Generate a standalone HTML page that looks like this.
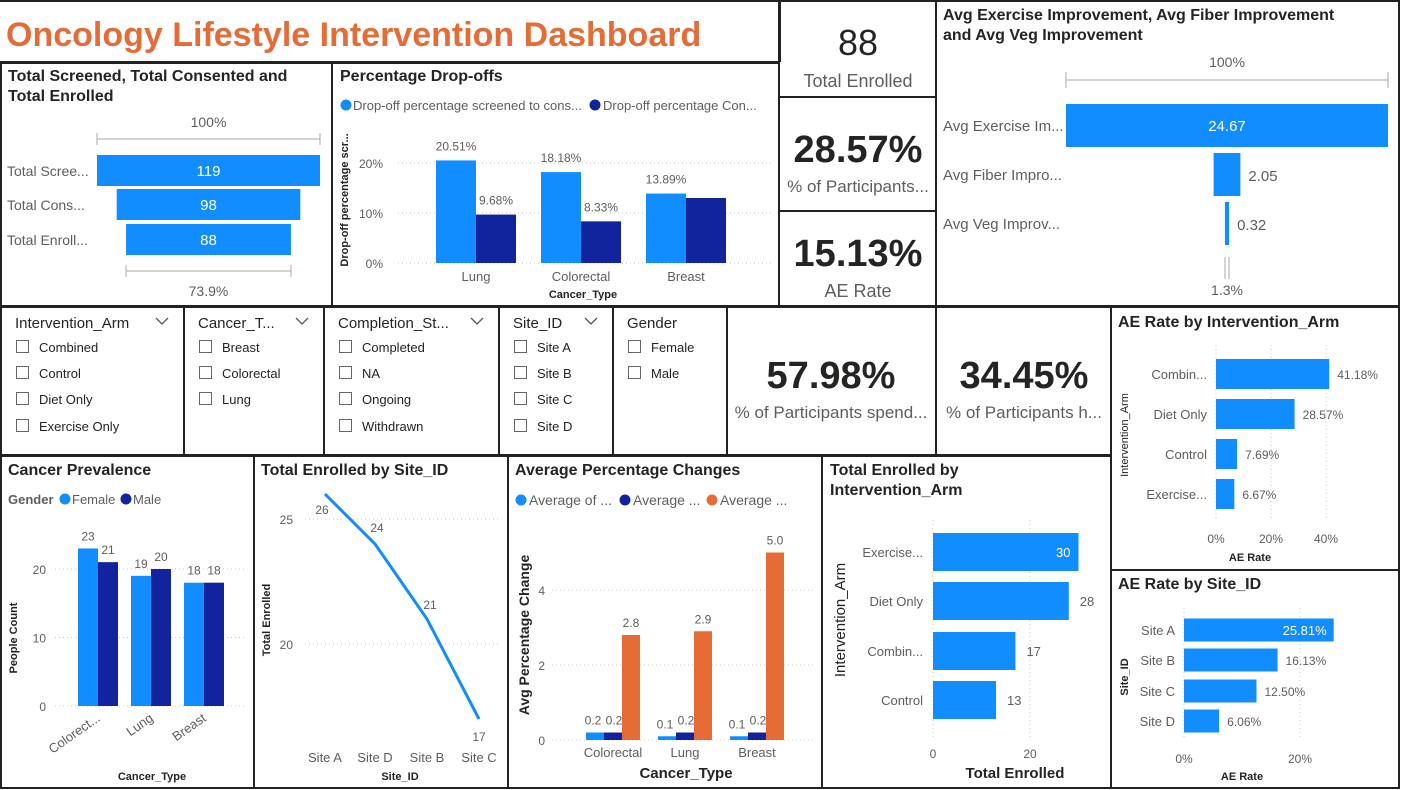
<!DOCTYPE html>
<html><head><meta charset="utf-8"><title>Oncology Lifestyle Intervention Dashboard</title>
<style>
html,body{margin:0;padding:0;background:#fff;}
svg{display:block;font-family:"Liberation Sans",sans-serif;}
</style></head>
<body>
<svg id="dash" width="1401" height="790" viewBox="0 0 1401 790" xmlns="http://www.w3.org/2000/svg">
<rect x="0" y="0" width="1401" height="790" fill="#fff"/>
<g id="borders" stroke="#222" stroke-width="2" fill="none">
  <line x1="0" y1="1" x2="1400" y2="1"/>
  <line x1="780" y1="0" x2="780" y2="62"/>
  <line x1="0" y1="62" x2="780" y2="62"/>
  <rect x="1" y="63" width="331" height="243"/>
  <rect x="332" y="63" width="447" height="243"/>
  <rect x="779" y="1" width="157" height="96"/>
  <rect x="779" y="97" width="157" height="114"/>
  <rect x="779" y="211" width="157" height="95"/>
  <rect x="936" y="1" width="463" height="305"/>
  <rect x="1" y="307" width="183" height="148"/>
  <rect x="184" y="307" width="140" height="148"/>
  <rect x="324" y="307" width="175" height="148"/>
  <rect x="499" y="307" width="114" height="148"/>
  <rect x="613" y="307" width="114" height="148"/>
  <rect x="727" y="307" width="209" height="148"/>
  <rect x="936" y="307" width="175" height="148"/>
  <rect x="1111" y="307" width="288" height="263"/>
  <rect x="1111" y="570" width="288" height="218"/>
  <rect x="1" y="456" width="253" height="332"/>
  <rect x="254" y="456" width="254" height="332"/>
  <rect x="508" y="456" width="314" height="332"/>
  <rect x="822" y="456" width="289" height="332"/>
</g>
<text x="6" y="46" font-size="34" font-weight="bold" fill="#E66C37">Oncology Lifestyle Intervention Dashboard</text>

<g text-anchor="middle">
  <text x="858" y="55" font-size="36" fill="#252423">88</text>
  <text x="858" y="87" font-size="18" fill="#605E5C">Total Enrolled</text>
</g>
<g text-anchor="middle">
  <text x="858" y="162" font-size="38" font-weight="bold" fill="#252423">28.57%</text>
  <text x="858" y="192" font-size="17" fill="#605E5C">% of Participants...</text>
</g>
<g text-anchor="middle">
  <text x="858" y="266" font-size="38" font-weight="bold" fill="#252423">15.13%</text>
  <text x="858" y="297" font-size="18" fill="#605E5C">AE Rate</text>
</g>
<g text-anchor="middle">
  <text x="831" y="388" font-size="38" font-weight="bold" fill="#252423">57.98%</text>
  <text x="831" y="418" font-size="17" fill="#605E5C">% of Participants spend...</text>
</g>
<g text-anchor="middle">
  <text x="1024" y="388" font-size="38" font-weight="bold" fill="#252423">34.45%</text>
  <text x="1024" y="418" font-size="17" fill="#605E5C">% of Participants h...</text>
</g>
<g id="charts"></g>
</svg>
<script>
var funnel1Labels = ["Total Scree...", "Total Cons...", "Total Enroll..."];
var funnel1Values = [119, 98, 88];
var funnel1Bottom = "73.9%";
var dropCats = ["Lung", "Colorectal", "Breast"];
var dropScreened = [20.51, 18.18, 13.89];
var dropConsented = [9.68, 8.33, 13.0];
var dropScreenedLbl = ["20.51%", "18.18%", "13.89%"];
var dropConsentedLbl = ["9.68%", "8.33%", ""];
var dropTicks = [0, 10, 20];
var improveLabels = ["Avg Exercise Im...", "Avg Fiber Impro...", "Avg Veg Improv..."];
var improveValues = [24.67, 2.05, 0.32];
var improveBottom = "1.3%";
var prevCats = ["Colorect...", "Lung", "Breast"];
var prevFemale = [23, 19, 18];
var prevMale = [21, 20, 18];
var prevTicks = [0, 10, 20];
var siteCats = ["Site A", "Site D", "Site B", "Site C"];
var siteEnrolled = [26, 24, 21, 17];
var siteTicks = [20, 25];
var avgCats = ["Colorectal", "Lung", "Breast"];
var avgS1 = [0.2, 0.1, 0.1];
var avgS2 = [0.2, 0.2, 0.2];
var avgS3 = [2.8, 2.9, 5.0];
var avgTicks = [0, 2, 4];
var armCats = ["Exercise...", "Diet Only", "Combin...", "Control"];
var armEnrolled = [30, 28, 17, 13];
var armTicks = [0, 20];
var aeArmCats = ["Combin...", "Diet Only", "Control", "Exercise..."];
var aeArmVals = [41.18, 28.57, 7.69, 6.67];
var aeArmTicks = [0, 20, 40];
var aeSiteCats = ["Site A", "Site B", "Site C", "Site D"];
var aeSiteVals = [25.81, 16.13, 12.50, 6.06];
var aeSiteTicks = [0, 20];

var LB = "#118DFF", DB = "#12239E", OR = "#E66C37", GR = "#605E5C";
var NS = "http://www.w3.org/2000/svg";
var root = document.getElementById("charts");
function mk(tag, attrs, parent, txt) {
  var e = document.createElementNS(NS, tag);
  for (var k in attrs) e.setAttribute(k, attrs[k]);
  if (txt !== undefined) e.textContent = txt;
  (parent || root).appendChild(e);
  return e;
}
function grp(name) {
  var g = mk("g", {});
  
  
  return g;
}
function label(g, x, y, s, size, fill, anchor, extra) {
  var a = {x: x, y: y, "font-size": size, fill: fill, "text-anchor": anchor || "start"};
  for (var k in (extra || {})) a[k] = extra[k];
  var t = mk("text", a, g, s);
  
  
  return t;
}
function grid(g, x1, x2, y) { mk("line", {x1: x1, x2: x2, y1: y, y2: y, stroke: "#c8c8c8", "stroke-dasharray": "1,3"}, g); }
function vgrid(g, x, y1, y2) { mk("line", {x1: x, x2: x, y1: y1, y2: y2, stroke: "#c8c8c8", "stroke-dasharray": "1,3"}, g); }
function dot(g, x, y, c) { mk("circle", {cx: x, cy: y, r: 5.5, fill: c}, g); }

(function () {
  var g = grp("funnel-screened-consented-enrolled");
  label(g, 8, 81, "Total Screened, Total Consented and", 16, "#252423", "start", {"font-weight": "bold"});
  label(g, 8, 101, "Total Enrolled", 16, "#252423", "start", {"font-weight": "bold"});
  var cx = 208.5, maxW = 223, max = funnel1Values[0];
  function w(v) { return v / max * maxW; }
  label(g, cx, 127, "100%", 14, GR, "middle");
  mk("path", {d: "M" + (cx - maxW / 2) + " 133v12M" + (cx - maxW / 2) + " 139H" + (cx + maxW / 2) + "M" + (cx + maxW / 2) + " 133v12", stroke: "#aaa", fill: "none"}, g);
  var ys = [155, 189, 224];
  funnel1Values.forEach(function (v, i) {
    var r = mk("rect", {x: cx - w(v) / 2, y: ys[i], width: w(v), height: 31, fill: LB}, g);
    
    
    label(g, cx, ys[i] + 21, String(v), 15, "#fff", "middle");
    label(g, 7, ys[i] + 21, funnel1Labels[i], 14, GR, "start");
  });
  var last = w(funnel1Values[funnel1Values.length - 1]);
  mk("path", {d: "M" + (cx - last / 2) + " 265v12M" + (cx - last / 2) + " 271H" + (cx + last / 2) + "M" + (cx + last / 2) + " 265v12", stroke: "#aaa", fill: "none"}, g);
  label(g, cx, 296, funnel1Bottom, 14, GR, "middle");
})();

(function () {
  var g = grp("percentage-dropoffs-chart");
  label(g, 340, 81, "Percentage Drop-offs", 16, "#252423", "start", {"font-weight": "bold"});
  dot(g, 346, 105, LB); label(g, 353, 110, "Drop-off percentage screened to cons...", 13, GR);
  dot(g, 595, 105, DB); label(g, 603, 110, "Drop-off percentage Con...", 13, GR);
  function y(v) { return 263 - v * 5; }
  var cxs = [476, 581, 686];
  dropTicks.forEach(function (t) { grid(g, 398, 772, y(t)); label(g, 383, y(t) + 5, t + "%", 12, GR, "end"); });
  label(g, 0, 0, "Drop-off percentage scr...", 11, "#252423", "middle", {transform: "translate(348,200) rotate(-90)", "font-weight": "bold"});
  dropCats.forEach(function (c, i) {
    var b1 = mk("rect", {x: cxs[i] - 40, y: y(dropScreened[i]), width: 40, height: dropScreened[i] * 5, fill: LB}, g);
    
    
    var b2 = mk("rect", {x: cxs[i], y: y(dropConsented[i]), width: 40, height: dropConsented[i] * 5, fill: DB}, g);
    
    
    label(g, cxs[i] - 20, y(dropScreened[i]) - 10, dropScreenedLbl[i], 12, GR, "middle");
    if (dropConsentedLbl[i]) label(g, cxs[i] + 20, y(dropConsented[i]) - 10, dropConsentedLbl[i], 12, GR, "middle");
    label(g, cxs[i], 281, c, 13, GR, "middle");
  });
  label(g, 583, 298, "Cancer_Type", 11, "#252423", "middle", {"font-weight": "bold"});
})();

(function () {
  var g = grp("avg-improvement-funnel");
  label(g, 943, 20, "Avg Exercise Improvement, Avg Fiber Improvement", 16, "#252423", "start", {"font-weight": "bold"});
  label(g, 943, 40, "and Avg Veg Improvement", 16, "#252423", "start", {"font-weight": "bold"});
  var cx = 1227, maxW = 322, max = improveValues[0];
  function w(v) { return v / max * maxW; }
  label(g, cx, 67, "100%", 14, GR, "middle");
  mk("path", {d: "M" + (cx - maxW / 2) + " 72v16M" + (cx - maxW / 2) + " 80H" + (cx + maxW / 2) + "M" + (cx + maxW / 2) + " 72v16", stroke: "#aaa", fill: "none"}, g);
  var ys = [104, 153, 202];
  improveValues.forEach(function (v, i) {
    var bw = Math.max(w(v), 3);
    var r = mk("rect", {x: cx - bw / 2, y: ys[i], width: bw, height: 43, fill: LB}, g);
    
    
    if (i === 0) label(g, cx, ys[i] + 27, v.toFixed(2), 15, "#fff", "middle");
    else label(g, cx + bw / 2 + 8, ys[i] + 28, v.toFixed(2), 15, GR, "start");
    label(g, 943, ys[i] + 27, improveLabels[i], 15, GR, "start");
  });
  mk("path", {d: "M" + (cx - 2) + " 257v22M" + (cx + 2) + " 257v22", stroke: "#aaa", fill: "none"}, g);
  label(g, cx, 295, improveBottom, 14, GR, "middle");
})();

function slicer(name, x, w, title, items) {
  var g = grp(name);
  label(g, x + 14, 328, title, 15, "#252423");
  var ch = mk("path", {d: "M" + (x + w - 28) + " 318l6 6l6 -6", stroke: "#555", fill: "none", "stroke-width": 1.3}, g);
  if (title === "Gender") ch.setAttribute("stroke", "none");
  
  
  var ys = [347, 373, 399, 426];
  items.forEach(function (it, i) {
    var cb = mk("rect", {x: x + 15.5, y: ys[i] - 6.5, width: 12, height: 12, fill: "#fff", stroke: "#666"}, g);
    
    
    label(g, x + 38, ys[i] + 5, it, 13, "#252423");
  });
}
slicer("intervention-arm-slicer", 1, 183, "Intervention_Arm", ["Combined", "Control", "Diet Only", "Exercise Only"]);
slicer("cancer-type-slicer", 184, 140, "Cancer_T...", ["Breast", "Colorectal", "Lung"]);
slicer("completion-status-slicer", 324, 175, "Completion_St...", ["Completed", "NA", "Ongoing", "Withdrawn"]);
slicer("site-id-slicer", 499, 114, "Site_ID", ["Site A", "Site B", "Site C", "Site D"]);
slicer("gender-slicer", 613, 114, "Gender", ["Female", "Male"]);

(function () {
  var g = grp("cancer-prevalence-chart");
  label(g, 8, 475, "Cancer Prevalence", 16, "#252423", "start", {"font-weight": "bold"});
  label(g, 8, 504, "Gender", 13, GR, "start", {"font-weight": "bold"});
  dot(g, 65, 499, LB); label(g, 72, 504, "Female", 13, GR);
  dot(g, 126, 499, DB); label(g, 133, 504, "Male", 13, GR);
  function y(v) { return 706 - v * 6.85; }
  var cxs = [98, 151, 204];
  prevTicks.forEach(function (t) { grid(g, 55, 245, y(t)); label(g, 46, y(t) + 5, String(t), 12, GR, "end"); });
  label(g, 0, 0, "People Count", 11, "#252423", "middle", {transform: "translate(17,638) rotate(-90)", "font-weight": "bold"});
  prevCats.forEach(function (c, i) {
    var b1 = mk("rect", {x: cxs[i] - 20, y: y(prevFemale[i]), width: 20, height: prevFemale[i] * 6.85, fill: LB}, g);
    
    
    var b2 = mk("rect", {x: cxs[i], y: y(prevMale[i]), width: 20, height: prevMale[i] * 6.85, fill: DB}, g);
    
    
    label(g, cxs[i] - 10, y(prevFemale[i]) - 8, String(prevFemale[i]), 12, GR, "middle");
    label(g, cxs[i] + 10, y(prevMale[i]) - 8, String(prevMale[i]), 12, GR, "middle");
    label(g, 0, 0, c, 13, GR, "end", {transform: "translate(" + (cxs[i] + 3) + ",720) rotate(-35)"});
  });
  label(g, 152, 780, "Cancer_Type", 11, "#252423", "middle", {"font-weight": "bold"});
})();

(function () {
  var g = grp("enrolled-by-site-line-chart");
  label(g, 261, 475, "Total Enrolled by Site_ID", 16, "#252423", "start", {"font-weight": "bold"});
  function y(v) { return 644 - (v - 20) * 25; }
  var xs = [325, 375, 427, 479];
  siteTicks.forEach(function (t) { grid(g, 305, 498, y(t)); label(g, 293, y(t) + 5, String(t), 12, GR, "end"); });
  label(g, 0, 0, "Total Enrolled", 11, "#252423", "middle", {transform: "translate(270,620) rotate(-90)", "font-weight": "bold"});
  var d = siteEnrolled.map(function (v, i) { return (i ? "L" : "M") + xs[i] + " " + y(v); }).join("");
  var p = mk("path", {d: d, stroke: LB, "stroke-width": 3, fill: "none"}, g);
  
  
  var offs = [[-3, 20], [2, -12], [3, -10], [0, 22]];
  siteEnrolled.forEach(function (v, i) {
    label(g, xs[i] + offs[i][0], y(v) + offs[i][1], String(v), 12, GR, "middle");
    label(g, xs[i], 762, siteCats[i], 13, GR, "middle");
  });
  label(g, 400, 780, "Site_ID", 11, "#252423", "middle", {"font-weight": "bold"});
})();

(function () {
  var g = grp("average-percentage-changes-chart");
  label(g, 515, 475, "Average Percentage Changes", 16, "#252423", "start", {"font-weight": "bold"});
  dot(g, 521, 500, LB); label(g, 529, 505, "Average of ...", 14, GR);
  dot(g, 625, 500, DB); label(g, 633, 505, "Average ...", 14, GR);
  dot(g, 712, 500, OR); label(g, 720, 505, "Average ...", 14, GR);
  function y(v) { return 740 - v * 37.5; }
  var cxs = [613, 685, 757];
  avgTicks.forEach(function (t) { grid(g, 552, 815, y(t)); label(g, 545, y(t) + 5, String(t), 12, GR, "end"); });
  label(g, 0, 0, "Avg Percentage Change", 14, "#252423", "middle", {transform: "translate(529,635) rotate(-90)", "font-weight": "bold"});
  var series = [[avgS1, LB, -27], [avgS2, DB, -9], [avgS3, OR, 9]];
  avgCats.forEach(function (c, i) {
    series.forEach(function (s, k) {
      var v = s[0][i];
      var r = mk("rect", {x: cxs[i] + s[2], y: y(v), width: 18, height: v * 37.5, fill: s[1]}, g);
      
      
      label(g, cxs[i] + s[2] + 9 + (k === 0 ? -2 : (k === 1 ? 1 : 0)), y(v) - 8, v.toFixed(1), 12, GR, "middle");
    });
    label(g, cxs[i], 757, c, 13, GR, "middle");
  });
  label(g, 686, 778, "Cancer_Type", 15, "#252423", "middle", {"font-weight": "bold"});
})();

(function () {
  var g = grp("enrolled-by-arm-chart");
  label(g, 830, 475, "Total Enrolled by", 16, "#252423", "start", {"font-weight": "bold"});
  label(g, 830, 495, "Intervention_Arm", 16, "#252423", "start", {"font-weight": "bold"});
  function x(v) { return 933 + v * 4.85; }
  var ys = [552, 601, 651, 700];
  armTicks.forEach(function (t) { vgrid(g, x(t), 520, 740); label(g, x(t), 758, String(t), 12, GR, "middle"); });
  armCats.forEach(function (c, i) {
    var r = mk("rect", {x: x(0), y: ys[i] - 19, width: x(armEnrolled[i]) - x(0), height: 38, fill: LB}, g);
    
    
    label(g, 923, ys[i] + 5, c, 13, GR, "end");
    if (i === 0) label(g, x(armEnrolled[i]) - 8, ys[i] + 5, String(armEnrolled[i]), 13, "#fff", "end");
    else label(g, x(armEnrolled[i]) + 11, ys[i] + 5, String(armEnrolled[i]), 13, GR, "start");
  });
  label(g, 0, 0, "Intervention_Arm", 15, "#252423", "middle", {transform: "translate(845,620) rotate(-90)"});
  label(g, 1015, 778, "Total Enrolled", 15, "#252423", "middle", {"font-weight": "bold"});
})();

(function () {
  var g = grp("ae-rate-by-arm-chart");
  label(g, 1118, 327, "AE Rate by Intervention_Arm", 16, "#252423", "start", {"font-weight": "bold"});
  function x(v) { return 1216 + v * 2.75; }
  var ys = [374, 414, 454, 494];
  aeArmTicks.forEach(function (t) { vgrid(g, x(t), 345, 520); label(g, x(t), 543, t + "%", 12, GR, "middle"); });
  aeArmCats.forEach(function (c, i) {
    var r = mk("rect", {x: x(0), y: ys[i] - 15, width: x(aeArmVals[i]) - x(0), height: 30, fill: LB}, g);
    
    
    label(g, 1207, ys[i] + 5, c, 13, GR, "end");
    label(g, x(aeArmVals[i]) + 8, ys[i] + 5, aeArmVals[i].toFixed(2) + "%", 12, GR, "start");
  });
  label(g, 0, 0, "Intervention_Arm", 11, "#252423", "middle", {transform: "translate(1128,435) rotate(-90)"});
  label(g, 1250, 561, "AE Rate", 11, "#252423", "middle", {"font-weight": "bold"});
})();

(function () {
  var g = grp("ae-rate-by-site-chart");
  label(g, 1118, 589, "AE Rate by Site_ID", 16, "#252423", "start", {"font-weight": "bold"});
  function x(v) { return 1184 + v * 5.8; }
  var ys = [630, 660, 691, 721];
  aeSiteTicks.forEach(function (t) { vgrid(g, x(t), 608, 740); label(g, x(t), 763, t + "%", 12, GR, "middle"); });
  aeSiteCats.forEach(function (c, i) {
    var r = mk("rect", {x: x(0), y: ys[i] - 11.5, width: x(aeSiteVals[i]) - x(0), height: 23, fill: LB}, g);
    
    
    label(g, 1175, ys[i] + 5, c, 13, GR, "end");
    if (i === 0) label(g, x(aeSiteVals[i]) - 7, ys[i] + 5, aeSiteVals[i].toFixed(2) + "%", 13, "#fff", "end");
    else label(g, x(aeSiteVals[i]) + 8, ys[i] + 5, aeSiteVals[i].toFixed(2) + "%", 12, GR, "start");
  });
  label(g, 0, 0, "Site_ID", 11, "#252423", "middle", {transform: "translate(1128,677) rotate(-90)", "font-weight": "bold"});
  label(g, 1242, 780, "AE Rate", 11, "#252423", "middle", {"font-weight": "bold"});
})();
</script>
</body></html>
